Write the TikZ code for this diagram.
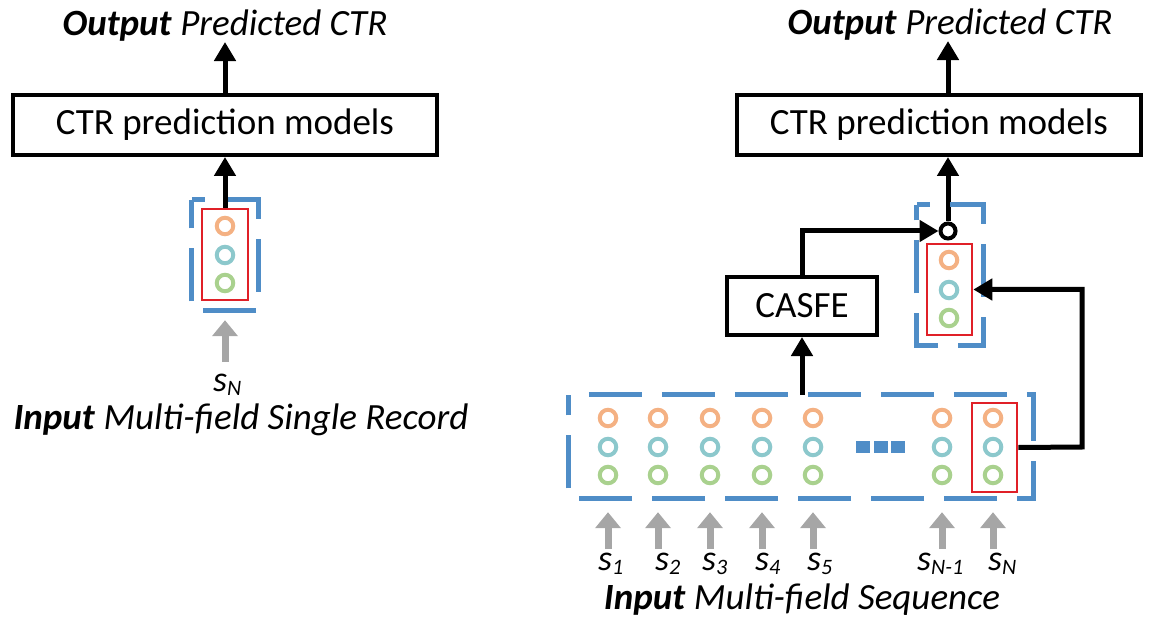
\documentclass[tikz,border=0pt]{standalone}
\usepackage{fontspec}
\setmainfont{Carlito}
\usetikzlibrary{arrows.meta,calc}
\definecolor{bl}{RGB}{79,141,199}
\definecolor{rd}{RGB}{224,32,40}
\definecolor{gr}{RGB}{166,166,166}
\definecolor{orc}{RGB}{244,177,131}
\definecolor{tec}{RGB}{140,200,204}
\definecolor{gnc}{RGB}{169,209,142}
\newcommand{\subl}[1]{\raisebox{-4pt}{\fontsize{22}{22}\selectfont\itshape #1}}
\begin{document}
\begin{tikzpicture}[x=1pt,y=-1pt,
  txt/.style={font=\fontsize{37}{40}\selectfont, inner sep=0pt},
  boxn/.style={draw, line width=4pt, inner sep=0pt, font=\fontsize{37}{40}\selectfont},
  arr/.style={line width=5pt, -{Triangle[length=19pt,width=21pt]}},
  garr/.style={draw=gr, line width=7pt, -{Triangle[length=16pt,width=25pt]}},
  ring/.style={circle, line width=4pt, minimum size=16.5pt, inner sep=0pt},
  redbox/.style={draw=rd, line width=2.7pt, inner sep=0pt},
  vecbox/.style={inner sep=0pt},
  bluedash/.style={draw=bl, line width=5pt, dash pattern=on 53pt off 20pt},
  dotsq/.style={fill=bl, minimum width=14pt, minimum height=12pt, inner sep=0pt},
  lab/.style={font=\fontsize{36}{38}\selectfont\itshape, inner sep=0pt, anchor=base west}
]
\useasboundingbox (0,0) rectangle (1155,617);

% ---------- left part ----------
\node[txt, anchor=base] (lOut) at (225,36) {\textbf{\textit{Output}} \textit{Predicted CTR}};
\node[boxn, minimum width=424pt, minimum height=60pt] (lBox) at (225,125) {CTR prediction models};
\node[vecbox, minimum width=66pt, minimum height=110pt] (lvec) at (225,255) {};
\draw[bluedash, dash phase=40pt] (lvec.north west) -- (lvec.north east) -- (lvec.south east) -- (lvec.south west) -- cycle;
\node[redbox, minimum width=46pt, minimum height=91pt] (lred) at (225,254.5) {};
\node[ring, draw=orc] (la) at (225,226) {};
\node[ring, draw=tec] (lb) at (225,255) {};
\node[ring, draw=gnc] (lc) at (225,283) {};
\draw[arr] (lred.north) -- (lBox.south);
\draw[arr] (lBox.north) -- (lOut.south);
\node[lab] (lsN) at (213,391) {s\subl{N}};
\coordinate (lt) at (225,362);
\draw[garr, shorten >=10pt] (lt) -- (lvec.south);
\node[txt, anchor=base] (lIn) at (241,429) {\textbf{\textit{Input}} \textit{Multi-field Single Record}};

% ---------- right part ----------
\node[txt, anchor=base] (rOut) at (950,35) {\textbf{\textit{Output}} \textit{Predicted CTR}};
\node[boxn, minimum width=404pt, minimum height=60pt] (rBox) at (939,125) {CTR prediction models};
\node[circle, draw, line width=4pt, minimum size=15pt, inner sep=0pt] (rdot) at (948,231) {};
\draw[arr] (rdot.north) -- (rdot.north |- rBox.south);
\draw[arr] (rdot.north |- rBox.north) -- (rdot.north |- rOut.south);

\node[boxn, minimum width=150pt, minimum height=58pt] (casfe) at (802,306) {CASFE};
\draw[arr] (casfe.north) |- (rdot.west);

\node[vecbox, minimum width=66pt, minimum height=140pt] (rvec) at (950,275) {};
\draw[bluedash, dash phase=40pt] (rvec.north west) -- (rvec.north east) -- (rvec.south east) -- (rvec.south west) -- cycle;
\node[redbox, minimum width=45pt, minimum height=91pt] (rred) at (949.5,289.5) {};
\node[ring, draw=orc] (ra) at (949,260) {};
\node[ring, draw=tec] (rb) at (949,290) {};
\node[ring, draw=gnc] (rc) at (949,318) {};

% sequence
\node[vecbox, minimum width=464pt, minimum height=103pt] (seq) at (801,446.5) {};
\draw[bluedash, dash phase=53pt] (seq.north west) -- (seq.north east) -- (seq.south east) -- (seq.south west) -- cycle;
\node[redbox, minimum width=45pt, minimum height=89pt] (sred) at (994.5,447.5) {};
\foreach \x/\lx/\sb [count=\i] in {608/598/1,658/655/2,710/702/3,762/755/4,813/807/5,942/917/N-1,993/988/N}{
  \node[ring, draw=orc] (c\i a) at (\x,418) {};
  \node[ring, draw=tec] (c\i b) at (\x,447) {};
  \node[ring, draw=gnc] (c\i c) at (\x,475) {};
  \node[lab] (s\i) at (\lx,570) {s\subl{\sb}};
  \coordinate (t\i) at (\x,549);
  \draw[garr, shorten >=14pt] (t\i) -- (t\i |- seq.south);
}
\node[dotsq] (d1) at (863,447) {};
\node[dotsq] (d2) at (881,447) {};
\node[dotsq] (d3) at (898,447) {};

\draw[arr] (casfe.south |- seq.north) -- (casfe.south);
\coordinate (turn) at (1082,447);
\draw[arr] (sred.east) -- (turn) |- (rred.east);

\node[txt, anchor=base] (rIn) at (802,609) {\textbf{\textit{Input}} \textit{Multi-field Sequence}};
\end{tikzpicture}
\end{document}
